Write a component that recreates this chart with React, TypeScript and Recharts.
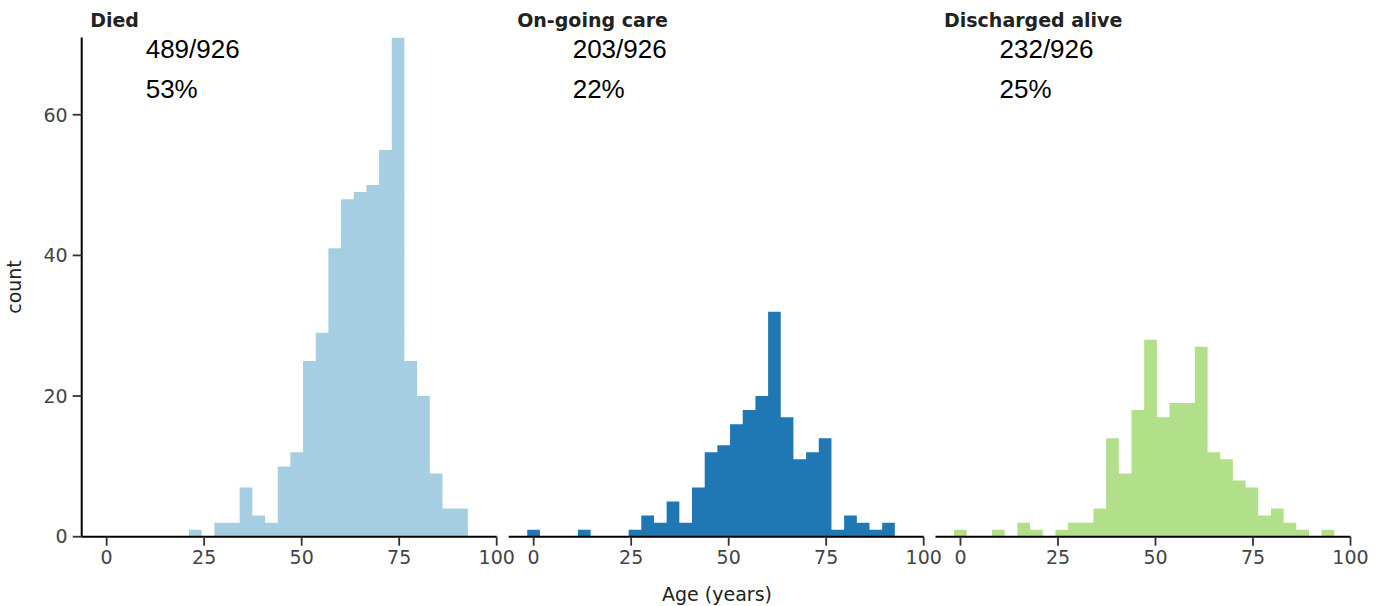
import { AreaChart, Area, XAxis, YAxis } from 'recharts'

// histogram bins (years): every panel uses the same edges
const binStart = -1.65
const binWidth = 3.25

const diedCounts = [0, 0, 0, 0, 0, 0, 0, 1, 0, 2, 2, 7, 3, 2, 10, 12, 25, 29, 41, 48, 49, 50, 55, 71, 25, 20, 9, 4, 4, 0]
const ongoingCounts = [1, 0, 0, 0, 1, 0, 0, 0, 1, 3, 2, 5, 2, 7, 12, 13, 16, 18, 20, 32, 17, 11, 12, 14, 1, 3, 2, 1, 2, 0]
const dischargedCounts = [1, 0, 0, 1, 0, 2, 1, 0, 1, 2, 2, 4, 14, 9, 18, 28, 17, 19, 19, 27, 12, 11, 8, 7, 3, 4, 2, 1, 0, 1]

const xTicks = [0, 25, 50, 75, 100]
const yTicks = [0, 20, 40, 60]

const panelTitles = ['Died', 'On-going care', 'Discharged alive']
const panelFractions = ['489/926', '203/926', '232/926']
const panelPercents = ['53%', '22%', '25%']
const panelColors = ['#a6cee3', '#1f78b4', '#b2df8a']
const panelCounts = [diedCounts, ongoingCounts, dischargedCounts]

const W = 1382
const H = 606
const TOP = 37.4
const BOTTOM = 39.3

const panels = [
  { left: 0, width: 520, margin: { top: TOP, right: 23.3, bottom: BOTTOM, left: 0 }, showY: true, plotLeft: 81.7 },
  { left: 500, width: 450, margin: { top: TOP, right: 26.3, bottom: BOTTOM, left: 8.7 }, showY: false, plotLeft: 508.7 },
  { left: 925, width: 457, margin: { top: TOP, right: 31.5, bottom: BOTTOM, left: 10.5 }, showY: false, plotLeft: 935.5 },
]

// stepAfter needs the points at the bin edges, plus the closing edge
function toSteps(counts: number[]) {
  const pts = counts.map((c, i) => ({ x: binStart + i * binWidth, y: c }))
  pts.push({ x: binStart + counts.length * binWidth, y: counts[counts.length - 1] })
  return pts
}

const tickStyle = { fontSize: 19, fill: '#444', fontFamily: 'DejaVu Sans' }
const axisLineStyle = { stroke: '#000', strokeWidth: 2 }
const tickLineStyle = { stroke: '#333', strokeWidth: 1.8 }

function Panel({ idx }: { idx: number }) {
  const p = panels[idx]
  return (
    <div style={{ position: 'absolute', left: p.left, top: 0, width: p.width, height: H }}>
      <AreaChart width={p.width} height={H} data={toSteps(panelCounts[idx])} margin={p.margin}>
        <XAxis
          type="number"
          dataKey="x"
          domain={[-6.4, 100]}
          ticks={xTicks}
          allowDataOverflow
          height={30}
          tick={tickStyle}
          tickSize={9}
          tickMargin={5}
          axisLine={axisLineStyle}
          tickLine={tickLineStyle}
        />
        <YAxis
          hide={!p.showY}
          domain={[0, 71]}
          ticks={yTicks}
          allowDataOverflow
          width={81.7}
          tick={tickStyle}
          tickSize={9}
          tickMargin={5}
          axisLine={axisLineStyle}
          tickLine={tickLineStyle}
        />
        <Area
          type="stepAfter"
          dataKey="y"
          stroke="none"
          fill={panelColors[idx]}
          fillOpacity={1}
          isAnimationActive={false}
        />
      </AreaChart>
    </div>
  )
}

export default function App() {
  return (
    <div style={{ position: 'absolute', left: 0, top: 0, width: W, height: H, background: '#fff', overflow: 'hidden' }}>
      {panels.map((_, i) => (
        <Panel key={i} idx={i} />
      ))}
      <svg width={W} height={H} style={{ position: 'absolute', left: 0, top: 0, pointerEvents: 'none' }}>
        {panels.map((p, i) => (
          <g key={i}>
            <text x={p.plotLeft + 8.5} y={27} fontFamily="DejaVu Sans" fontWeight="bold" fontSize={19} fill="#222">
              {panelTitles[i]}
            </text>
            <text x={p.plotLeft + 64} y={57.5} fontFamily="Liberation Sans" fontSize={26} fill="#000">
              {panelFractions[i]}
            </text>
            <text x={p.plotLeft + 64} y={97.5} fontFamily="Liberation Sans" fontSize={26} fill="#000">
              {panelPercents[i]}
            </text>
          </g>
        ))}
        <text x={717} y={601} textAnchor="middle" fontFamily="DejaVu Sans" fontSize={19} fill="#222">
          Age (years)
        </text>
        <text x={21} y={287} textAnchor="middle" transform="rotate(-90, 21, 287)" fontFamily="DejaVu Sans" fontSize={19} fill="#222">
          count
        </text>
      </svg>
    </div>
  )
}
